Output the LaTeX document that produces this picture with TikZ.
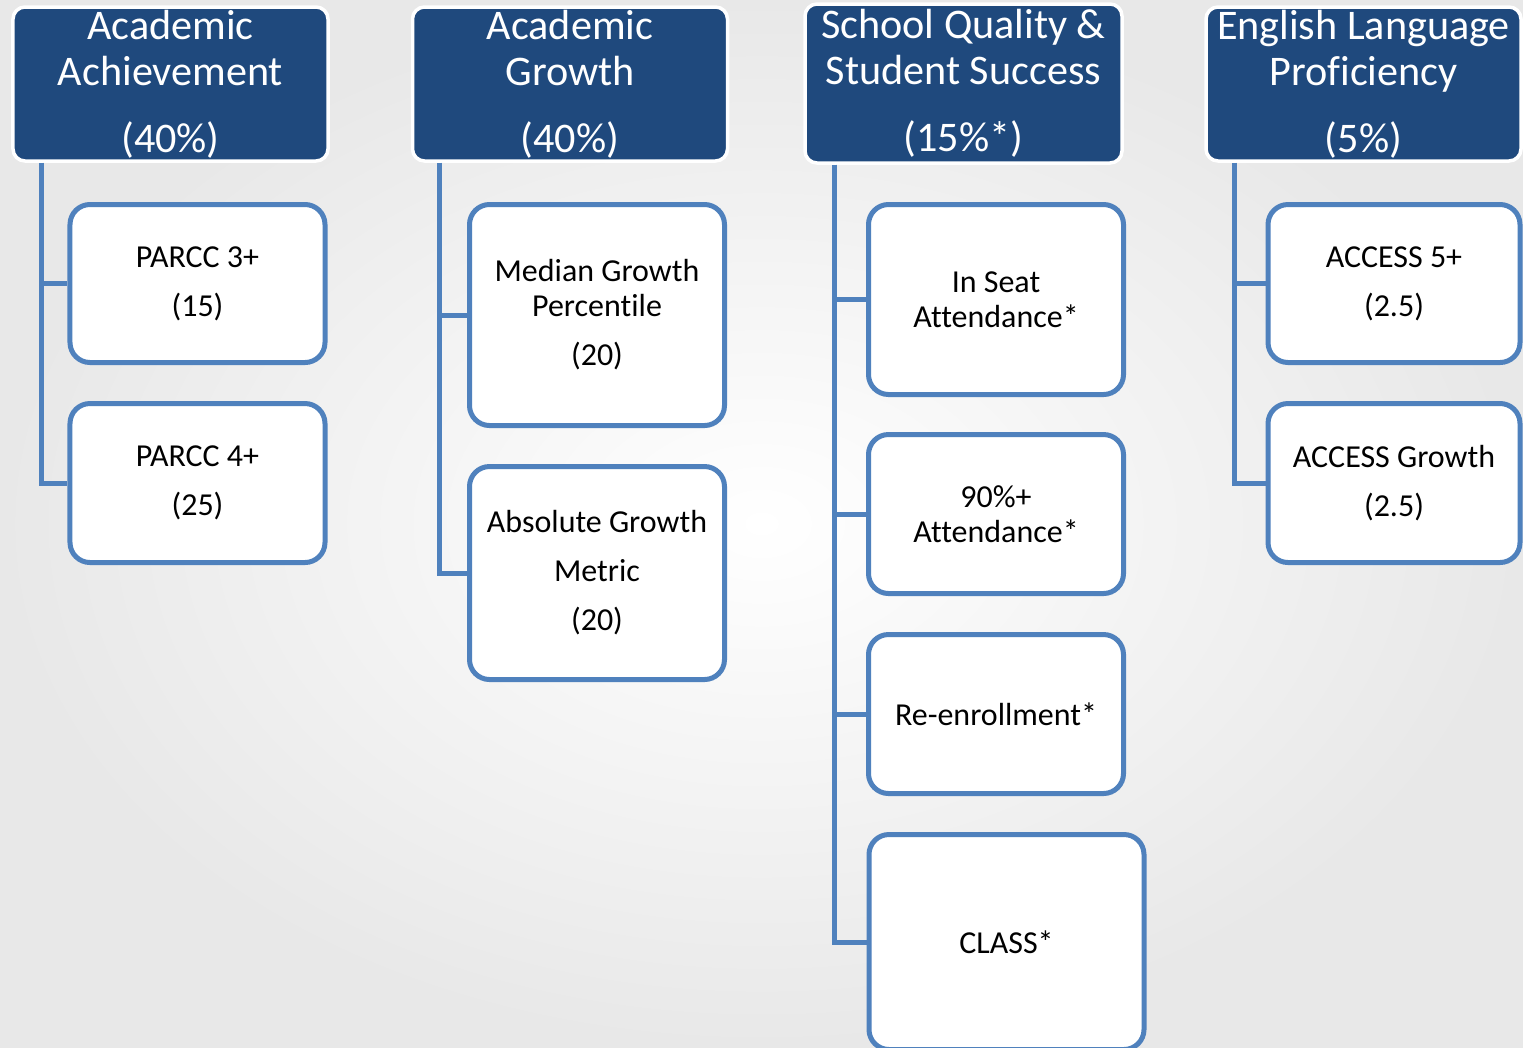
\documentclass[tikz,border=0pt]{standalone}
\usepackage{fontspec}
\setmainfont{Carlito}[Ligatures=NoCommon]
\definecolor{headblue}{HTML}{1F497D}
\definecolor{linkblue}{HTML}{4F81BD}

\begin{document}
\begin{tikzpicture}[x=0.2mm,y=-0.2mm]

      \clip (0,0) rectangle (1523,1047);
      \shade[inner color=white,outer color=black!9] (0,0) rectangle (1523,1047);

      \begin{scope}[every node/.style={rectangle,rounded corners=2.4mm,fill=headblue,draw=white,
          line width=0.7mm,text=white,inner sep=0pt,align=center,
          minimum width=63mm,minimum height=30.8mm,
          font=\fontsize{24}{26.2}\selectfont}]
        \node (ach) at (170.5,84)  {Academic\\Achievement\\[12pt](40\%)};
        \node (gro) at (570,84)    {Academic\\Growth\\[12pt](40\%)};
        \node (sqs) at (963.5,83.5) [minimum width=63.4mm,minimum height=31.8mm]
                                   {School Quality \&\\Student Success\\[12pt](15\%*)};
        \node (elp) at (1363.5,84) {English Language\\Proficiency\\[12pt](5\%)};
      \end{scope}

      \begin{scope}[every node/.style={rectangle,rounded corners=4mm,fill=white,draw=linkblue,
          line width=1mm,inner sep=0pt,align=center,minimum width=51mm,
          font=\fontsize{18.2}{19.9}\selectfont}]
        \node (p3)    at (197.5,283.5) [minimum height=31.6mm] {PARCC 3+\\[8pt](15)};
        \node (p4)    at (197.5,483)   [minimum height=31.8mm] {PARCC 4+\\[8pt](25)};
        \node (mgp)   at (597,315)     [minimum height=44.2mm] {Median Growth\\Percentile\\[8pt](20)};
        \node (agm)   at (597,573)     [minimum height=42.6mm] {Absolute Growth\\[8pt]Metric\\[8pt](20)};
        \node (seat)  at (996,299.5)   [minimum height=38mm]   {In Seat\\Attendance*};
        \node (att)   at (996,514)     [minimum height=31.8mm] {90\%+\\Attendance*};
        \node (reenr) at (996,714)     [minimum height=31.8mm] {Re-enrollment*};
        \node (class) at (1006.5,942)  [minimum width=55mm,minimum height=43mm] {CLASS*};
        \node (acc5)  at (1394,283.5)  [minimum width=50.4mm,minimum height=31.6mm] {ACCESS 5+\\[8pt](2.5)};
        \node (accg)  at (1394,483)    [minimum width=50.4mm,minimum height=31.8mm] {ACCESS Growth\\[8pt](2.5)};
      \end{scope}

      \begin{scope}[every path/.style={draw=linkblue,line width=1mm}]
        \path ([xshift=6mm]ach.south west) |- (p3.west);
        \path ([xshift=6mm]ach.south west) |- (p4.west);
        \path ([xshift=5.8mm]gro.south west) |- (mgp.west);
        \path ([xshift=5.8mm]gro.south west) |- (agm.west);
        \path ([xshift=6.2mm]sqs.south west) |- (seat.west);
        \path ([xshift=6.2mm]sqs.south west) |- (att.west);
        \path ([xshift=6.2mm]sqs.south west) |- (reenr.west);
        \path ([xshift=6.2mm]sqs.south west) |- (class.west);
        \path ([xshift=6mm]elp.south west) |- (acc5.west);
        \path ([xshift=6mm]elp.south west) |- (accg.west);
      \end{scope}

    \end{tikzpicture}
\end{document}
